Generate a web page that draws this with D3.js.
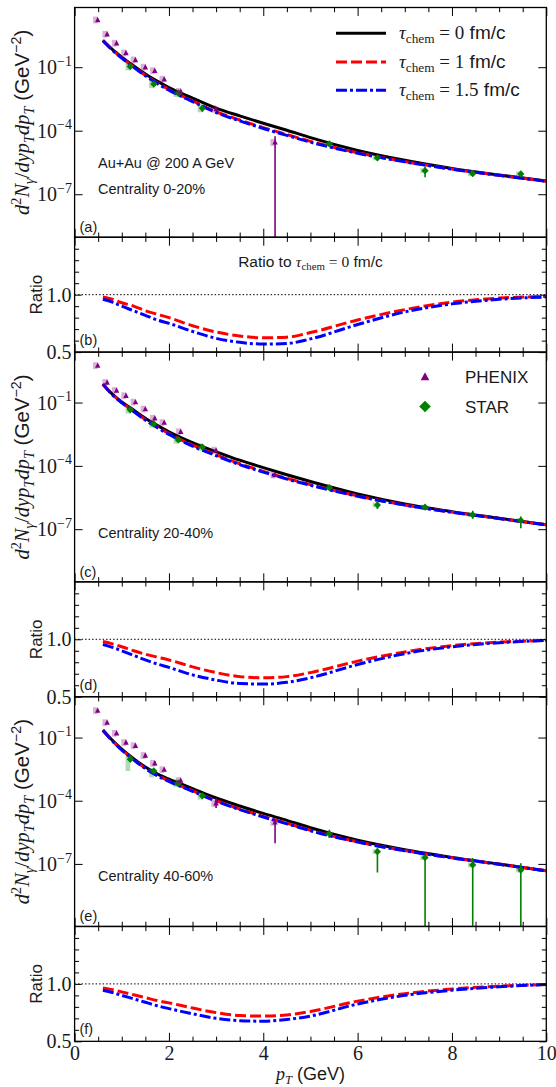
<!DOCTYPE html>
<html><head><meta charset="utf-8">
<script src="https://cdn.jsdelivr.net/npm/d3@7/dist/d3.min.js"></script>
<style>html,body{margin:0;padding:0;background:#fff}svg{display:block}text{white-space:pre}</style>
</head><body>
<svg id="chart" width="556" height="1087"></svg>
<script>
// ---------------- data ----------------
const xTickValues = [0, 2, 4, 6, 8, 10];
const ratioTickLabels = [0.5, 1.0];
const logTickValues = [1e-1, 1e-4, 1e-7];
const logTickExps = ["\u22121", "\u22124", "\u22127"];
const yDomA = [9.3e-10, 66];
const yDomC = [3.2e-10, 24.5];
const yDomE = [1.07e-10, 8.7];
const ratioDomain = [0.5, 1.5];

// theory curves (tau_chem = 0), and ratios to it
const ptGrid   = [0.6, 0.8, 1.0, 1.25, 1.5, 1.75, 2.0, 2.5, 3.0, 3.5, 4.0, 4.5, 5.0, 6.0, 7.0, 8.0, 9.0, 10.0];
const spec0_a  = [1.86, 0.69, 0.30, 0.117, 0.048, 0.022, 0.011, 3.5e-3, 1.17e-3, 5.0e-4, 2.24e-4, 1.05e-4, 4.7e-5, 1.17e-5, 4.0e-6, 1.66e-6, 8.1e-7, 4.2e-7];
const spec0_c  = [0.76, 0.25, 0.107, 0.044, 0.018, 8.3e-3, 4.1e-3, 1.26e-3, 4.7e-4, 1.86e-4, 8.3e-5, 3.8e-5, 1.82e-5, 4.7e-6, 1.58e-6, 6.8e-7, 3.3e-7, 1.62e-7];
const spec0_e  = [0.229, 0.0741, 0.0282, 0.01, 3.98e-3, 1.9e-3, 1.05e-3, 3.8e-4, 1.35e-4, 5.6e-5, 2.5e-5, 1.17e-5, 5.2e-6, 1.32e-6, 4.7e-7, 2.04e-7, 9.8e-8, 4.7e-8];
const ratio1_b  = [0.98, 0.96, 0.93, 0.90, 0.86, 0.83, 0.80, 0.73, 0.675, 0.64, 0.625, 0.63, 0.67, 0.78, 0.87, 0.935, 0.97, 0.985];
const ratio15_b = [0.96, 0.935, 0.90, 0.86, 0.82, 0.78, 0.75, 0.68, 0.62, 0.585, 0.57, 0.575, 0.615, 0.74, 0.85, 0.92, 0.96, 0.98];
const ratio1_d  = [0.98, 0.96, 0.935, 0.90, 0.87, 0.845, 0.82, 0.76, 0.71, 0.675, 0.665, 0.675, 0.71, 0.81, 0.89, 0.945, 0.975, 0.99];
const ratio15_d = [0.955, 0.93, 0.90, 0.86, 0.82, 0.785, 0.755, 0.69, 0.645, 0.615, 0.61, 0.625, 0.665, 0.78, 0.875, 0.935, 0.97, 0.99];
const ratio1_f  = [0.965, 0.95, 0.93, 0.905, 0.88, 0.855, 0.835, 0.79, 0.75, 0.725, 0.72, 0.73, 0.76, 0.85, 0.915, 0.955, 0.98, 0.995];
const ratio15_f = [0.945, 0.925, 0.90, 0.87, 0.84, 0.81, 0.785, 0.74, 0.70, 0.68, 0.675, 0.69, 0.72, 0.825, 0.90, 0.945, 0.975, 0.995];

// PHENIX
const phenixPt = [0.49, 0.69, 0.89, 1.09, 1.29, 1.5, 1.7, 1.9, 2.25, 3.0, 4.25];
const phenixA  = [17, 3.6, 1.35, 0.47, 0.22, 0.1, 0.068, 0.027, 0.0072, 1.05e-3, 2.8e-5];
const phenixC  = [5.6, 0.89, 0.37, 0.21, 0.105, 0.049, 0.018, 0.0112, 0.0041, 5.4e-4, 3.7e-5];
const phenixE  = [1.9, 0.51, 0.16, 0.058, 0.041, 0.014, 0.006, 0.003, 9.1e-4, 7.6e-5, 9.5e-6];
const phenixSys = [1.45, 1.45, 1.45, 1.45, 1.45, 1.45, 1.45, 1.45, 1.45, 1.5, 1.45];
const phenixErrA = [null, null, null, null, null, null, null, null, null, null, [1e-12, 5.5e-5]];
const phenixErrC = [null, null, null, null, null, null, null, null, null, null, null];
const phenixErrE = [null, null, null, null, null, [0.011, 0.017], [0.0047, 0.0078], null, null, [4.5e-5, 1.3e-4], [9.5e-7, 1.2e-5]];

// STAR
const starPt = [1.18, 1.68, 2.2, 2.71, 5.4, 6.42, 7.43, 8.44, 9.46];
const starA  = [0.107, 0.016, 0.0059, 1.15e-3, 2.4e-5, 5.2e-6, 1.3e-6, 9.3e-7, 9.1e-7];
const starC  = [0.045, 0.0098, 0.0017, 7.8e-4, 9.3e-6, 1.4e-6, 1.1e-6, 4.8e-7, 2.6e-7];
const starE  = [0.0093, 0.0026, 6.8e-4, 1.7e-4, 2.7e-6, 3.8e-7, 2.0e-7, 8.9e-8, 5.1e-8];
const starSysA = [[1.5,1.5],[1.55,1.55],[1.5,1.5],[1.55,1.55],[1.3,1.3],[1.3,1.3],[1.3,1.3],[1.3,1.3],[1.3,1.3]];
const starSysC = [[1.5,1.5],[1.5,1.5],[1.5,1.5],[1.5,1.5],[1.3,1.3],[1.3,1.3],[1.3,1.3],[1.3,1.3],[1.3,1.3]];
const starSysE = [[1.6,3.6],[1.35,2.0],[1.5,1.5],[1.5,1.5],[1.3,1.3],[1.3,1.3],[1.3,1.3],[1.3,1.3],[1.3,1.3]];
const starErrA = [null, null, null, [7.8e-4, 1.7e-3], [1.9e-5, 3.0e-5], [4.2e-6, 6.5e-6], [6.3e-7, 2.0e-6], [7.2e-7, 1.2e-6], [6.8e-7, 1.2e-6]];
const starErrC = [null, null, null, null, [7.5e-6, 1.15e-5], [9e-7, 2.2e-6], [8.5e-7, 1.4e-6], [3.1e-7, 7.4e-7], [1.12e-7, 4e-7]];
const starErrE = [[0.0078, 0.011], null, null, null, [1.7e-6, 4.2e-6], [3.9e-8, 5.6e-7], [1e-12, 2.7e-7], [1e-12, 1.9e-7], [1e-12, 1.07e-7]];

// ---------------- drawing ----------------
const SERIF = "'Liberation Serif','DejaVu Serif',serif";
const SANS = "'Liberation Sans','DejaVu Sans',sans-serif";
const TXT = '#1a1a1a';
const COL = {k: '#000000', r: '#ff0000', b: '#0000ff', ph: '#800080', st: '#008000'};
const svg = d3.select('#chart');
const X0 = 74.6, X1 = 546.3, TOP = 7.5, U = 114.87;
const x = d3.scaleLinear().domain([0, 10]).range([X0, X1]);
const BOXW = 0.1;
const defs = svg.append('defs');
let clipN = 0;
function clip(top, h) {
  const id = 'clip' + (clipN++);
  defs.append('clipPath').attr('id', id).append('rect')
    .attr('x', X0).attr('y', top).attr('width', X1 - X0).attr('height', h);
  return `url(#${id})`;
}
function rich(parent, px, py, segs, size, anchor, rotate) {
  const t = parent.append('text').attr('x', px).attr('y', py)
    .attr('font-size', size).attr('fill', TXT);
  if (anchor) t.attr('text-anchor', anchor);
  if (rotate) t.attr('transform', `rotate(-90,${px},${py})`);
  let cur = 0;
  segs.forEach(s => {
    const sp = t.append('tspan').text(s.t).attr('font-family', s.f === 'sans' ? SANS : SERIF);
    if (s.i) sp.attr('font-style', 'italic');
    const sh = s.sh || 0;
    if (sh !== cur) sp.attr('dy', ((cur - sh) * size).toFixed(2));
    cur = sh;
    if (s.sc) sp.attr('font-size', size * s.sc);
  });
  return t;
}
function clean(g) {
  g.select('.domain').remove();
  g.selectAll('line').attr('stroke', '#000').attr('stroke-width', 1);
  return g;
}
const minorX = d3.range(0, 10.001, 0.5).filter(v => Math.abs(v % 2) > 1e-9);
function xAxes(top, h, withLabels) {
  const gb = svg.append('g').attr('transform', `translate(0,${top + h})`);
  clean(gb.call(d3.axisBottom(x).tickValues(minorX).tickSizeInner(-4.7).tickSizeOuter(0).tickFormat('')));
  const gb2 = svg.append('g').attr('transform', `translate(0,${top + h})`);
  clean(gb2.call(d3.axisBottom(x).tickValues(xTickValues).tickSizeInner(-8.5).tickSizeOuter(0).tickPadding(4)
    .tickFormat(withLabels ? d3.format('d') : '')));
  gb2.selectAll('text').attr('font-family', SERIF).attr('font-size', 20).attr('fill', TXT);
  const gt = svg.append('g').attr('transform', `translate(0,${top})`);
  clean(gt.call(d3.axisTop(x).tickValues(minorX).tickSizeInner(-4.7).tickSizeOuter(0).tickFormat('')));
  const gt2 = svg.append('g').attr('transform', `translate(0,${top})`);
  clean(gt2.call(d3.axisTop(x).tickValues(xTickValues).tickSizeInner(-8.5).tickSizeOuter(0).tickFormat('')));
}
function border(top, h) {
  svg.append('rect').attr('x', X0).attr('y', top).attr('width', X1 - X0).attr('height', h)
    .attr('fill', 'none').attr('stroke', '#000').attr('stroke-width', 1.3);
}
const triPath = (hw, t, b) => `M0,${-t}L${hw},${b}L${-hw},${b}Z`;
const diaPath = (r) => `M0,${-r}L${r},0L0,${r}L${-r},0Z`;

function drawPoints(g, y, pts, vals, errs, sysLo, sysHi, color, path) {
  const rows = vals.map((v, i) => ({pt: pts[i], v, e: errs[i], sl: sysLo(i), sh: sysHi(i)}));
  g.append('g').selectAll('rect').data(rows).join('rect')
    .attr('x', d => x(d.pt - BOXW)).attr('width', x(BOXW) - x(0))
    .attr('y', d => y(d.v * d.sh)).attr('height', d => y(d.v / d.sl) - y(d.v * d.sh))
    .attr('fill', color).attr('fill-opacity', 0.3);
  g.append('g').selectAll('line').data(rows.filter(d => d.e)).join('line')
    .attr('x1', d => x(d.pt)).attr('x2', d => x(d.pt))
    .attr('y1', d => y(d.e[0])).attr('y2', d => y(d.e[1]))
    .attr('stroke', color).attr('stroke-width', 1.6);
  g.append('g').selectAll('path').data(rows).join('path')
    .attr('transform', d => `translate(${x(d.pt)},${y(d.v)})`)
    .attr('d', path).attr('fill', color);
}

function specPanel(cfg) {
  const {top, h, dom, spec, r1, r15} = cfg;
  const y = d3.scaleLog().domain(dom).range([top + h, top]);
  const g = svg.append('g').attr('clip-path', clip(top, h));
  const line = d3.line().x(d => x(d[0])).y(d => y(d[1])).curve(d3.curveMonotoneX);
  const black = ptGrid.map((p, i) => [p, spec[i]]);
  const red = ptGrid.map((p, i) => [p, spec[i] * r1[i]]);
  const blue = ptGrid.map((p, i) => [p, spec[i] * r15[i]]);
  g.append('path').datum(black).attr('d', line).attr('fill', 'none').attr('stroke', COL.k).attr('stroke-width', 3);
  g.append('path').datum(red).attr('d', line).attr('fill', 'none').attr('stroke', COL.r).attr('stroke-width', 3).attr('stroke-dasharray', '11,4');
  g.append('path').datum(blue).attr('d', line).attr('fill', 'none').attr('stroke', COL.b).attr('stroke-width', 3).attr('stroke-dasharray', '11,3,3,3');
  drawPoints(g, y, starPt, cfg.st, cfg.stErr, i => cfg.stSys[i][1], i => cfg.stSys[i][0], COL.st, diaPath(3.6));
  drawPoints(g, y, phenixPt, cfg.ph, cfg.phErr, i => phenixSys[i], i => phenixSys[i], COL.ph, triPath(2.7, 3.2, 2.2));
  border(top, h);
  xAxes(top, h, false);
  const gl = svg.append('g').attr('transform', `translate(${X0},0)`);
  clean(gl.call(d3.axisLeft(y).tickValues(logTickValues).tickSizeInner(-8).tickSizeOuter(0).tickFormat('')));
  const gr = svg.append('g').attr('transform', `translate(${X1},0)`);
  clean(gr.call(d3.axisRight(y).tickValues(logTickValues).tickSizeInner(-8).tickSizeOuter(0).tickFormat('')));
  logTickValues.forEach((v, i) => {
    rich(svg, 72, y(v) + 7, [{t: '10'}, {t: logTickExps[i], sc: 0.7, sh: 0.42}], 20, 'end');
  });
  // y label
  rich(svg, 29.5, top + h / 2, [
    {t: 'd', i: 1}, {t: '2', sc: 0.7, sh: 0.42}, {t: 'N', i: 1}, {t: '\u03b3', i: 1, sc: 0.7, sh: -0.22},
    {t: '/'}, {t: 'dyp', i: 1}, {t: 'T', i: 1, sc: 0.7, sh: -0.22}, {t: 'dp', i: 1}, {t: 'T', i: 1, sc: 0.7, sh: -0.22},
    {t: ' (GeV', f: 'sans'}, {t: '\u22122', f: 'sans', sc: 0.7, sh: 0.42}, {t: ')', f: 'sans'}
  ], 20.5, 'middle', true);
  // texts
  cfg.texts.forEach((t, k) => {
    svg.append('text').attr('x', 98).attr('y', top + cfg.textY[k]).attr('font-family', SANS)
      .attr('font-size', 14.5).attr('fill', TXT).text(t);
  });
  svg.append('text').attr('x', 79.5).attr('y', top + h - 5).attr('font-family', SANS)
    .attr('font-size', 14.5).attr('fill', TXT).text(cfg.label);
}

function ratioPanel(cfg) {
  const {top, h, r1, r15} = cfg;
  const y = d3.scaleLinear().domain(ratioDomain).range([top + h, top]);
  const g = svg.append('g').attr('clip-path', clip(top, h));
  g.append('line').attr('x1', X0).attr('x2', X1).attr('y1', y(1)).attr('y2', y(1))
    .attr('stroke', '#000').attr('stroke-width', 1).attr('stroke-dasharray', '1.5,2');
  const line = d3.line().x(d => x(d[0])).y(d => y(d[1])).curve(d3.curveMonotoneX);
  g.append('path').datum(ptGrid.map((p, i) => [p, r1[i]])).attr('d', line).attr('fill', 'none')
    .attr('stroke', COL.r).attr('stroke-width', 3).attr('stroke-dasharray', '11,4');
  g.append('path').datum(ptGrid.map((p, i) => [p, r15[i]])).attr('d', line).attr('fill', 'none')
    .attr('stroke', COL.b).attr('stroke-width', 3).attr('stroke-dasharray', '11,3,3,3');
  border(top, h);
  xAxes(top, h, cfg.xlabels);
  const minorY = d3.range(6, 15).map(v => v / 10).filter(v => Math.abs(v - 1) > 1e-9);
  const gl = svg.append('g').attr('transform', `translate(${X0},0)`);
  clean(gl.call(d3.axisLeft(y).tickValues(minorY).tickSizeInner(-4.5).tickSizeOuter(0).tickFormat('')));
  const gl2 = svg.append('g').attr('transform', `translate(${X0},0)`);
  clean(gl2.call(d3.axisLeft(y).tickValues(ratioTickLabels).tickSizeInner(-7).tickSizeOuter(0).tickPadding(3).tickFormat(d3.format('.1f'))));
  gl2.selectAll('text').attr('font-family', SERIF).attr('font-size', 20).attr('fill', TXT);
  const gr = svg.append('g').attr('transform', `translate(${X1},0)`);
  clean(gr.call(d3.axisRight(y).tickValues(minorY).tickSizeInner(-4.5).tickSizeOuter(0).tickFormat('')));
  const gr2 = svg.append('g').attr('transform', `translate(${X1},0)`);
  clean(gr2.call(d3.axisRight(y).tickValues(ratioTickLabels).tickSizeInner(-7).tickSizeOuter(0).tickFormat('')));
  svg.append('text').attr('x', 42).attr('y', top + h / 2).attr('transform', `rotate(-90,42,${top + h / 2})`)
    .attr('text-anchor', 'middle').attr('font-family', SANS).attr('font-size', 17).attr('fill', TXT).text('Ratio');
  svg.append('text').attr('x', 79.5).attr('y', top + h - 7).attr('font-family', SANS)
    .attr('font-size', 14.5).attr('fill', TXT).text(cfg.label);
}

const tops = [TOP, TOP + 2 * U, TOP + 3 * U, TOP + 5 * U, TOP + 6 * U, TOP + 8 * U];
specPanel({top: tops[0], h: 2 * U, dom: yDomA, spec: spec0_a, r1: ratio1_b, r15: ratio15_b,
  ph: phenixA, phErr: phenixErrA, st: starA, stErr: starErrA, stSys: starSysA, label: '(a)',
  texts: ['Au+Au @ 200 A GeV', 'Centrality 0-20%'], textY: [160.5, 186.5]});
ratioPanel({top: tops[1], h: U, r1: ratio1_b, r15: ratio15_b, label: '(b)', xlabels: false});
specPanel({top: tops[2], h: 2 * U, dom: yDomC, spec: spec0_c, r1: ratio1_d, r15: ratio15_d,
  ph: phenixC, phErr: phenixErrC, st: starC, stErr: starErrC, stSys: starSysC, label: '(c)',
  texts: ['Centrality 20-40%'], textY: [186]});
ratioPanel({top: tops[3], h: U, r1: ratio1_d, r15: ratio15_d, label: '(d)', xlabels: false});
specPanel({top: tops[4], h: 2 * U, dom: yDomE, spec: spec0_e, r1: ratio1_f, r15: ratio15_f,
  ph: phenixE, phErr: phenixErrE, st: starE, stErr: starErrE, stSys: starSysE, label: '(e)',
  texts: ['Centrality 40-60%'], textY: [184.5]});
ratioPanel({top: tops[5], h: U, r1: ratio1_f, r15: ratio15_f, label: '(f)', xlabels: true});

// "Ratio to tau_chem = 0 fm/c"
rich(svg, (X0 + X1) / 2, tops[1] + 29.5, [
  {t: 'Ratio to ', f: 'sans'}, {t: '\u03c4', i: 1}, {t: 'chem', sc: 0.7, sh: -0.22}, {t: ' = 0'}, {t: ' fm/c', f: 'sans'}
], 15.5, 'middle');

// legend (a)
const legendTau = ['0', '1', '1.5'];
const legendStyle = [[COL.k, null], [COL.r, '11,4'], [COL.b, '11,3,3,3']];
const legY = [25.8, 54.5, 82.8];
legendTau.forEach((v, k) => {
  const yy = tops[0] + legY[k];
  const ln = svg.append('line').attr('x1', 336).attr('x2', 386).attr('y1', yy).attr('y2', yy)
    .attr('stroke', legendStyle[k][0]).attr('stroke-width', 3);
  if (legendStyle[k][1]) ln.attr('stroke-dasharray', legendStyle[k][1]);
  rich(svg, 399, yy + 6, [{t: '\u03c4', i: 1}, {t: 'chem', sc: 0.7, sh: -0.22}, {t: ' = ' + v}, {t: ' fm/c', f: 'sans'}], 19);
});
// legend (c)
const legNames = ['PHENIX', 'STAR'];
const legY2 = [24.7, 54.4];
svg.append('path').attr('transform', `translate(425,${tops[2] + legY2[0]})`).attr('d', triPath(4.3, 4.5, 3.5)).attr('fill', COL.ph);
svg.append('path').attr('transform', `translate(425,${tops[2] + legY2[1]})`).attr('d', diaPath(5.8)).attr('fill', COL.st);
legNames.forEach((n, k) => {
  svg.append('text').attr('x', 465).attr('y', tops[2] + legY2[k] + 6).attr('font-family', SANS)
    .attr('font-size', 17).attr('fill', TXT).text(n);
});
// x label
rich(svg, (X0 + X1) / 2, 1080, [{t: 'p', i: 1}, {t: 'T', i: 1, sc: 0.7, sh: -0.22}, {t: ' (GeV)', f: 'sans'}], 18, 'middle');
</script>
</body></html>
